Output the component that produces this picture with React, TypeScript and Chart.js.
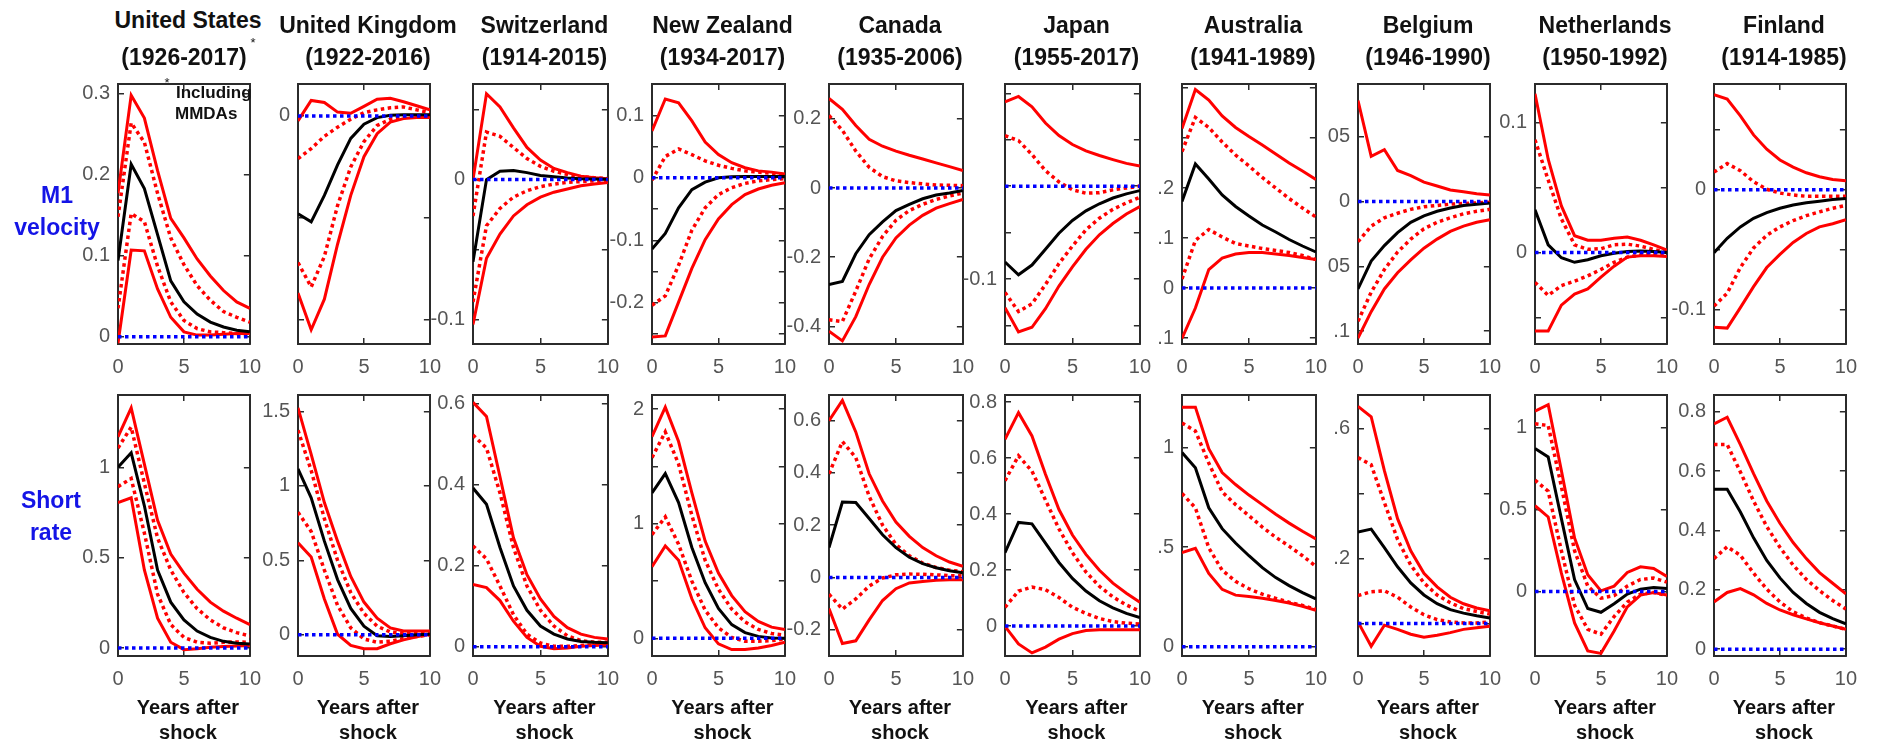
import React, { useEffect, useRef } from 'react';
import { Chart, registerables } from 'chart.js';

Chart.register(...registerables);

// ---------- data ----------
const years = [0, 1, 2, 3, 4, 5, 6, 7, 8, 9, 10];
const zeroLine = [0, 0, 0, 0, 0, 0, 0, 0, 0, 0, 0];
const xTicks = [0, 5, 10];
const xTickText = ['0', '5', '10'];

const countries = ['United States', 'United Kingdom', 'Switzerland', 'New Zealand', 'Canada', 'Japan', 'Australia', 'Belgium', 'Netherlands', 'Finland'];
const periods = ['(1926-2017)', '(1922-2016)', '(1914-2015)', '(1934-2017)', '(1935-2006)', '(1955-2017)', '(1941-1989)', '(1946-1990)', '(1950-1992)', '(1914-1985)'];
const rowLabels = [['M1', 'velocity'], ['Short', 'rate']];
const xTitle = ['Years after', 'shock'];
const usNote = ['Including', 'MMDAs'];

// series rows: upper outer band, upper inner band, point estimate, lower inner band, lower outer band
const usVel = [
  [0.177, 0.298, 0.27, 0.205, 0.146, 0.122, 0.096, 0.075, 0.057, 0.043, 0.035],
  [0.148, 0.264, 0.24, 0.177, 0.122, 0.089, 0.063, 0.045, 0.031, 0.024, 0.018],
  [0.094, 0.213, 0.183, 0.126, 0.069, 0.043, 0.028, 0.018, 0.012, 0.008, 0.006],
  [0.035, 0.152, 0.142, 0.087, 0.043, 0.02, 0.01, 0.006, 0.005, 0.004, 0.004],
  [-0.008, 0.107, 0.106, 0.059, 0.024, 0.006, 0.002, 0.002, 0.003, 0.004, 0.004],
];
const usVelRange = [-0.009, 0.312];
const usVelTicks = [0, 0.1, 0.2, 0.3];
const usVelText = ['0', '0.1', '0.2', '0.3'];

const ukVel = [
  [-0.0024, 0.0076, 0.0066, 0.0019, 0.0013, 0.0047, 0.0082, 0.0087, 0.007, 0.005, 0.003],
  [-0.021, -0.016, -0.01, -0.0055, -0.0016, 0.0016, 0.003, 0.004, 0.0044, 0.003, 0.0016],
  [-0.048, -0.052, -0.039, -0.024, -0.011, -0.004, -0.0008, 0.0003, 0.0006, 0.0006, 0.0006],
  [-0.072, -0.084, -0.069, -0.044, -0.025, -0.0126, -0.0047, -0.0016, -0.0003, 0, 0],
  [-0.087, -0.105, -0.09, -0.063, -0.039, -0.02, -0.0087, -0.003, -0.0013, -0.0008, -0.0008],
];
const ukVelRange = [-0.112, 0.0157];
const ukVelTicks = [-0.1, -0.05, 0];
const ukVelText = ['', '', '0'];

const chVel = [
  [0, 0.0614, 0.052, 0.037, 0.023, 0.014, 0.008, 0.005, 0.0025, 0.0014, 0.0007],
  [-0.026, 0.034, 0.031, 0.023, 0.015, 0.0095, 0.006, 0.0037, 0.002, 0.0014, 0.0007],
  [-0.0587, 0, 0.006, 0.0065, 0.005, 0.003, 0.002, 0.0012, 0.0007, 0.0005, 0.0002],
  [-0.0875, -0.033, -0.0206, -0.0125, -0.008, -0.005, -0.0032, -0.002, -0.0014, -0.0009, -0.0007],
  [-0.1037, -0.0563, -0.039, -0.026, -0.018, -0.0125, -0.009, -0.0067, -0.0044, -0.0032, -0.002],
];
const chVelRange = [-0.1176, 0.0684];
const chVelTicks = [-0.1, -0.05, 0, 0.05];
const chVelText = ['-0.1', '', '0', ''];

const nzVel = [
  [0.075, 0.126, 0.12, 0.091, 0.057, 0.037, 0.024, 0.016, 0.011, 0.009, 0.006],
  [-0.004, 0.034, 0.046, 0.037, 0.027, 0.02, 0.015, 0.011, 0.009, 0.007, 0.005],
  [-0.114, -0.089, -0.048, -0.019, -0.007, 0, 0.0015, 0.002, 0.002, 0.002, 0.002],
  [-0.204, -0.189, -0.14, -0.084, -0.048, -0.027, -0.016, -0.009, -0.005, -0.003, -0.0015],
  [-0.255, -0.253, -0.199, -0.145, -0.099, -0.066, -0.043, -0.027, -0.018, -0.012, -0.008],
];
const nzVelRange = [-0.266, 0.15];
const nzVelTicks = [-0.25, -0.2, -0.15, -0.1, -0.05, 0, 0.05, 0.1];
const nzVelText = ['', '-0.2', '', '-0.1', '', '0', '', '0.1'];

const caVel = [
  [0.259, 0.228, 0.181, 0.141, 0.121, 0.107, 0.095, 0.084, 0.073, 0.062, 0.051],
  [0.21, 0.167, 0.107, 0.06, 0.033, 0.021, 0.016, 0.012, 0.009, 0.008, 0.007],
  [-0.279, -0.27, -0.19, -0.135, -0.098, -0.065, -0.047, -0.031, -0.02, -0.014, -0.007],
  [-0.381, -0.386, -0.298, -0.205, -0.14, -0.093, -0.065, -0.047, -0.033, -0.023, -0.014],
  [-0.414, -0.442, -0.372, -0.279, -0.2, -0.144, -0.107, -0.079, -0.058, -0.045, -0.033],
];
const caVelRange = [-0.451, 0.301];
const caVelTicks = [-0.4, -0.2, 0, 0.2];
const caVelText = ['-0.4', '-0.2', '0', '0.2'];

const jpVel = [
  [0.0907, 0.0966, 0.0855, 0.068, 0.0545, 0.0448, 0.038, 0.033, 0.0286, 0.0245, 0.0217],
  [0.0545, 0.049, 0.034, 0.0166, 0.0045, -0.004, -0.0076, -0.007, -0.004, -0.002, 0],
  [-0.0817, -0.0955, -0.085, -0.068, -0.0507, -0.037, -0.0266, -0.019, -0.0128, -0.0083, -0.0048],
  [-0.1145, -0.135, -0.1266, -0.106, -0.0834, -0.0645, -0.047, -0.0345, -0.025, -0.018, -0.012],
  [-0.131, -0.157, -0.152, -0.132, -0.1076, -0.087, -0.068, -0.0524, -0.0403, -0.03, -0.022],
];
const jpVelRange = [-0.17, 0.11];
const jpVelTicks = [-0.15, -0.1, -0.05, 0, 0.05, 0.1];
const jpVelText = ['', '-0.1', '', '', '', ''];

const auVel = [
  [0.319, 0.397, 0.376, 0.344, 0.321, 0.303, 0.286, 0.268, 0.25, 0.234, 0.217],
  [0.273, 0.341, 0.321, 0.292, 0.266, 0.244, 0.221, 0.2, 0.179, 0.16, 0.142],
  [0.173, 0.248, 0.218, 0.186, 0.163, 0.144, 0.126, 0.112, 0.097, 0.084, 0.072],
  [0.018, 0.095, 0.117, 0.102, 0.089, 0.084, 0.079, 0.075, 0.071, 0.065, 0.057],
  [-0.101, -0.04, 0.037, 0.06, 0.068, 0.071, 0.071, 0.068, 0.065, 0.061, 0.057],
];
const auVelRange = [-0.112, 0.408];
const auVelTicks = [-0.1, 0, 0.1, 0.2, 0.3, 0.4];
const auVelText = ['.1', '0', '.1', '.2', '', ''];

const beVel = [
  [0.078, 0.035, 0.04, 0.024, 0.02, 0.015, 0.012, 0.009, 0.0075, 0.006, 0.005],
  [-0.031, -0.019, -0.0125, -0.009, -0.006, -0.004, -0.003, -0.002, -0.0015, -0.001, -0.0005],
  [-0.0675, -0.046, -0.034, -0.024, -0.016, -0.011, -0.0075, -0.005, -0.003, -0.002, -0.0012],
  [-0.0925, -0.07, -0.0525, -0.039, -0.029, -0.021, -0.016, -0.0125, -0.0095, -0.0075, -0.006],
  [-0.1055, -0.085, -0.0675, -0.055, -0.045, -0.036, -0.029, -0.023, -0.019, -0.016, -0.014],
];
const beVelRange = [-0.11, 0.0908];
const beVelTicks = [-0.1, -0.05, 0, 0.05];
const beVelText = ['.1', '05', '0', '05'];

const nlVel = [
  [0.1225, 0.072, 0.036, 0.013, 0.0095, 0.0095, 0.011, 0.012, 0.0095, 0.006, 0.002],
  [0.087, 0.056, 0.026, 0.006, 0.0025, 0.003, 0.006, 0.0065, 0.005, 0.0025, 0],
  [0.033, 0.006, -0.004, -0.0075, -0.0055, -0.0025, -0.0005, 0.0008, 0.0013, 0.0008, 0],
  [-0.023, -0.033, -0.0255, -0.022, -0.018, -0.013, -0.0075, -0.0035, -0.0018, -0.001, -0.001],
  [-0.0605, -0.0605, -0.0405, -0.032, -0.028, -0.019, -0.0105, -0.0035, -0.0025, -0.0025, -0.003],
];
const nlVelRange = [-0.0705, 0.13];
const nlVelTicks = [-0.05, 0, 0.05, 0.1];
const nlVelText = ['', '0', '', '0.1'];

const fiVel = [
  [0.0797, 0.076, 0.062, 0.046, 0.034, 0.025, 0.019, 0.0143, 0.011, 0.0086, 0.0076],
  [0.0149, 0.022, 0.016, 0.0068, 0.0005, -0.0027, -0.0043, -0.0054, -0.0054, -0.0054, -0.0054],
  [-0.0527, -0.0405, -0.031, -0.0238, -0.019, -0.0154, -0.0127, -0.0108, -0.0095, -0.008, -0.0073],
  [-0.0973, -0.0865, -0.065, -0.0486, -0.038, -0.031, -0.0257, -0.0216, -0.0184, -0.0154, -0.013],
  [-0.115, -0.1157, -0.0986, -0.081, -0.065, -0.054, -0.044, -0.0365, -0.031, -0.0284, -0.025],
];
const fiVelRange = [-0.129, 0.0886];
const fiVelTicks = [-0.1, -0.05, 0, 0.05];
const fiVelText = ['-0.1', '', '0', ''];

const usRate = [
  [1.169, 1.329, 1.018, 0.707, 0.52, 0.414, 0.325, 0.254, 0.204, 0.165, 0.13],
  [1.107, 1.222, 0.911, 0.609, 0.432, 0.307, 0.218, 0.156, 0.112, 0.085, 0.067],
  [1.0, 1.08, 0.787, 0.432, 0.254, 0.156, 0.094, 0.059, 0.037, 0.027, 0.023],
  [0.893, 0.938, 0.636, 0.298, 0.13, 0.059, 0.032, 0.027, 0.032, 0.034, 0.032],
  [0.805, 0.831, 0.432, 0.165, 0.032, -0.009, -0.004, 0.005, 0.009, 0.012, 0.014],
];
const usRateRange = [-0.044, 1.4];
const usRateTicks = [0, 0.5, 1];
const usRateText = ['0', '0.5', '1'];

const ukRate = [
  [1.524, 1.211, 0.888, 0.629, 0.392, 0.22, 0.112, 0.047, 0.026, 0.026, 0.026],
  [1.373, 1.103, 0.78, 0.5, 0.284, 0.144, 0.058, 0.019, 0.009, 0.009, 0.009],
  [1.114, 0.92, 0.629, 0.371, 0.177, 0.058, -0.006, -0.011, -0.006, 0, 0.004],
  [0.823, 0.694, 0.435, 0.198, 0.047, -0.028, -0.05, -0.043, -0.024, -0.011, 0],
  [0.618, 0.522, 0.241, 0.004, -0.071, -0.093, -0.093, -0.06, -0.034, -0.013, 0.004],
];
const ukRateRange = [-0.142, 1.61];
const ukRateTicks = [0, 0.5, 1, 1.5];
const ukRateText = ['0', '0.5', '1', '1.5'];

const chRate = [
  [0.604, 0.569, 0.42, 0.269, 0.178, 0.118, 0.075, 0.047, 0.031, 0.023, 0.019],
  [0.523, 0.491, 0.38, 0.245, 0.15, 0.09, 0.051, 0.027, 0.015, 0.011, 0.011],
  [0.392, 0.352, 0.245, 0.15, 0.09, 0.051, 0.031, 0.019, 0.013, 0.011, 0.01],
  [0.249, 0.217, 0.15, 0.079, 0.031, 0.009, 0.001, 0.001, 0.003, 0.005, 0.007],
  [0.154, 0.146, 0.114, 0.063, 0.023, 0.001, -0.005, -0.003, 0.001, 0.003, 0.005],
];
const chRateRange = [-0.023, 0.622];
const chRateTicks = [0, 0.2, 0.4, 0.6];
const chRateText = ['0', '0.2', '0.4', '0.6'];

const nzRate = [
  [1.759, 2.017, 1.717, 1.269, 0.849, 0.569, 0.373, 0.232, 0.148, 0.098, 0.078],
  [1.577, 1.801, 1.521, 1.073, 0.681, 0.429, 0.255, 0.143, 0.078, 0.042, 0.028],
  [1.269, 1.437, 1.185, 0.793, 0.485, 0.261, 0.12, 0.05, 0.017, 0.003, 0],
  [0.905, 1.059, 0.821, 0.499, 0.246, 0.092, 0.008, -0.025, -0.025, -0.02, -0.006],
  [0.625, 0.807, 0.681, 0.345, 0.092, -0.048, -0.098, -0.098, -0.084, -0.062, -0.034],
];
const nzRateRange = [-0.154, 2.123];
const nzRateTicks = [0, 0.5, 1, 1.5, 2];
const nzRateText = ['0', '', '1', '', '2'];

const caRate = [
  [0.599, 0.676, 0.556, 0.396, 0.292, 0.212, 0.157, 0.114, 0.083, 0.059, 0.043],
  [0.396, 0.519, 0.458, 0.31, 0.2, 0.126, 0.083, 0.055, 0.038, 0.028, 0.022],
  [0.114, 0.288, 0.286, 0.225, 0.163, 0.114, 0.077, 0.053, 0.037, 0.026, 0.018],
  [-0.064, -0.121, -0.082, -0.033, -0.002, 0.01, 0.013, 0.012, 0.01, 0.007, 0.006],
  [-0.119, -0.252, -0.242, -0.162, -0.088, -0.043, -0.021, -0.015, -0.011, -0.009, -0.009],
];
const caRateRange = [-0.3, 0.697];
const caRateTicks = [-0.2, 0, 0.2, 0.4, 0.6];
const caRateText = ['-0.2', '0', '0.2', '0.4', '0.6'];

const jpRate = [
  [0.667, 0.762, 0.679, 0.542, 0.416, 0.325, 0.256, 0.199, 0.153, 0.117, 0.085],
  [0.519, 0.608, 0.553, 0.45, 0.347, 0.262, 0.193, 0.142, 0.104, 0.075, 0.053],
  [0.262, 0.37, 0.365, 0.296, 0.227, 0.17, 0.125, 0.09, 0.065, 0.045, 0.03],
  [0.067, 0.125, 0.139, 0.13, 0.102, 0.067, 0.045, 0.027, 0.016, 0.01, 0.007],
  [-0.001, -0.064, -0.096, -0.075, -0.047, -0.027, -0.016, -0.013, -0.013, -0.013, -0.013],
];
const jpRateRange = [-0.107, 0.825];
const jpRateTicks = [0, 0.2, 0.4, 0.6, 0.8];
const jpRateText = ['0', '0.2', '0.4', '0.6', '0.8'];

const auRate = [
  [1.204, 1.204, 0.995, 0.875, 0.815, 0.762, 0.714, 0.666, 0.621, 0.58, 0.542],
  [1.124, 1.084, 0.923, 0.778, 0.714, 0.658, 0.601, 0.55, 0.505, 0.457, 0.404],
  [0.976, 0.899, 0.698, 0.593, 0.521, 0.457, 0.397, 0.347, 0.307, 0.272, 0.24],
  [0.77, 0.698, 0.497, 0.384, 0.328, 0.291, 0.264, 0.243, 0.223, 0.207, 0.188],
  [0.473, 0.494, 0.368, 0.288, 0.259, 0.252, 0.243, 0.232, 0.219, 0.203, 0.183],
];
const auRateRange = [-0.047, 1.265];
const auRateTicks = [0, 0.5, 1];
const auRateText = ['0', '.5', '1'];

const beRate = [
  [0.669, 0.637, 0.471, 0.323, 0.224, 0.155, 0.113, 0.081, 0.061, 0.048, 0.039],
  [0.511, 0.489, 0.373, 0.259, 0.18, 0.125, 0.088, 0.064, 0.046, 0.037, 0.029],
  [0.282, 0.291, 0.234, 0.175, 0.125, 0.088, 0.061, 0.043, 0.032, 0.024, 0.017],
  [0.086, 0.098, 0.101, 0.081, 0.051, 0.027, 0.012, 0.005, 0.002, 0.002, 0.005],
  [0.005, -0.07, -0.005, -0.018, -0.033, -0.042, -0.036, -0.028, -0.018, -0.013, -0.008],
];
const beRateRange = [-0.1, 0.704];
const beRateTicks = [0, 0.2, 0.4, 0.6];
const beRateText = ['', '.2', '', '.6'];

const nlRate = [
  [1.102, 1.141, 0.739, 0.327, 0.102, 0.004, 0.033, 0.116, 0.151, 0.141, 0.092],
  [1.024, 1.014, 0.641, 0.249, 0.033, -0.041, -0.025, 0.033, 0.073, 0.082, 0.057],
  [0.873, 0.822, 0.445, 0.073, -0.104, -0.127, -0.075, -0.016, 0.014, 0.024, 0.018],
  [0.68, 0.612, 0.249, -0.084, -0.231, -0.261, -0.153, -0.065, -0.016, -0.006, -0.025],
  [0.524, 0.455, 0.112, -0.192, -0.363, -0.378, -0.241, -0.094, -0.022, -0.006, -0.022],
];
const nlRateRange = [-0.394, 1.2];
const nlRateTicks = [0, 0.5, 1];
const nlRateText = ['0', '0.5', '1'];

const fiRate = [
  [0.759, 0.781, 0.689, 0.591, 0.499, 0.424, 0.359, 0.305, 0.258, 0.222, 0.186],
  [0.689, 0.689, 0.597, 0.499, 0.413, 0.343, 0.283, 0.235, 0.197, 0.164, 0.135],
  [0.539, 0.539, 0.462, 0.375, 0.299, 0.24, 0.191, 0.154, 0.124, 0.103, 0.085],
  [0.305, 0.345, 0.316, 0.256, 0.202, 0.159, 0.126, 0.105, 0.089, 0.078, 0.067],
  [0.159, 0.191, 0.204, 0.183, 0.154, 0.132, 0.116, 0.102, 0.089, 0.078, 0.067],
];
const fiRateRange = [-0.023, 0.856];
const fiRateTicks = [0, 0.2, 0.4, 0.6, 0.8];
const fiRateText = ['0', '0.2', '0.4', '0.6', '0.8'];

const panelRows = [
  [
    { s: usVel, r: usVelRange, t: usVelTicks, l: usVelText },
    { s: ukVel, r: ukVelRange, t: ukVelTicks, l: ukVelText },
    { s: chVel, r: chVelRange, t: chVelTicks, l: chVelText },
    { s: nzVel, r: nzVelRange, t: nzVelTicks, l: nzVelText },
    { s: caVel, r: caVelRange, t: caVelTicks, l: caVelText },
    { s: jpVel, r: jpVelRange, t: jpVelTicks, l: jpVelText },
    { s: auVel, r: auVelRange, t: auVelTicks, l: auVelText },
    { s: beVel, r: beVelRange, t: beVelTicks, l: beVelText },
    { s: nlVel, r: nlVelRange, t: nlVelTicks, l: nlVelText },
    { s: fiVel, r: fiVelRange, t: fiVelTicks, l: fiVelText },
  ],
  [
    { s: usRate, r: usRateRange, t: usRateTicks, l: usRateText },
    { s: ukRate, r: ukRateRange, t: ukRateTicks, l: ukRateText },
    { s: chRate, r: chRateRange, t: chRateTicks, l: chRateText },
    { s: nzRate, r: nzRateRange, t: nzRateTicks, l: nzRateText },
    { s: caRate, r: caRateRange, t: caRateTicks, l: caRateText },
    { s: jpRate, r: jpRateRange, t: jpRateTicks, l: jpRateText },
    { s: auRate, r: auRateRange, t: auRateTicks, l: auRateText },
    { s: beRate, r: beRateRange, t: beRateTicks, l: beRateText },
    { s: nlRate, r: nlRateRange, t: nlRateTicks, l: nlRateText },
    { s: fiRate, r: fiRateRange, t: fiRateTicks, l: fiRateText },
  ],
];

// ---------- layout & style ----------
const boxLeft = [118, 298, 473, 652, 829, 1005, 1182, 1358, 1535, 1714];
const boxRight = [258, 438, 616, 793, 971, 1148, 1324, 1498, 1675, 1854];
const rowTop = [74, 385];
const rowBottom = [344, 656];
const LM = 70;
const RM = 20;
const TM = 16;
const BM = 50;
const FONT = '"Liberation Sans", Arial, Helvetica, sans-serif';
const BOX_COLOR = '#2b2b2b';
const TICK_COLOR = '#555555';

function setTicks(vals: number[]) {
  return (scale: any) => {
    scale.ticks = vals.map((v) => ({ value: v }));
  };
}

function Panel({ spec, col, row }: any) {
  const ref = useRef<HTMLCanvasElement>(null);
  const x0 = boxLeft[col];
  const x1 = boxRight[col];
  const y0 = rowTop[row];
  const y1 = rowBottom[row];
  const w = LM + (x1 - x0) + RM;
  const h = TM + (y1 - y0) + BM;

  useEffect(() => {
    const [hi, hi68, mid, lo68, lo] = spec.s;
    const pts = (arr: number[]) => years.map((x, i) => ({ x, y: arr[i] }));
    const solid = (arr: number[], color: string) => ({
      data: pts(arr),
      borderColor: color,
      borderWidth: 3,
      pointRadius: 0,
      fill: false,
      tension: 0,
      xAxisID: 'x',
      yAxisID: 'y',
    });
    const dotted = (arr: number[], color: string) => ({
      ...solid(arr, color),
      borderWidth: 3.5,
      borderDash: [3.5, 3.5],
    });
    const grid = {
      display: true,
      drawOnChartArea: false,
      drawTicks: true,
      tickLength: -6,
      color: BOX_COLOR,
      lineWidth: 1.5,
    };
    const border = { display: true, color: BOX_COLOR, width: 2 };
    const tickFont = { family: FONT, size: 20 };
    const [ymin, ymax] = spec.r;

    const chart = new Chart(ref.current as HTMLCanvasElement, {
      type: 'line',
      data: {
        datasets: [
          dotted(zeroLine, '#0000ff'),
          solid(mid, '#000000'),
          dotted(hi68, '#ff0000'),
          dotted(lo68, '#ff0000'),
          solid(hi, '#ff0000'),
          solid(lo, '#ff0000'),
        ] as any,
      },
      options: {
        responsive: false,
        animation: false,
        devicePixelRatio: 1,
        events: [],
        layout: { padding: { left: 0, right: RM, top: TM, bottom: 0 } },
        plugins: { legend: { display: false }, tooltip: { enabled: false } },
        scales: {
          x: {
            type: 'linear',
            position: 'bottom',
            min: 0,
            max: 10,
            afterBuildTicks: setTicks(xTicks),
            afterFit: (s: any) => { s.height = BM; },
            ticks: {
              autoSkip: false,
              maxRotation: 0,
              color: TICK_COLOR,
              font: tickFont,
              padding: 17,
              callback: (_v: any, i: number) => xTickText[i],
            },
            grid,
            border,
          },
          xTop: {
            type: 'linear',
            position: 'top',
            min: 0,
            max: 10,
            afterBuildTicks: setTicks(xTicks),
            afterFit: (s: any) => { s.height = 0; },
            ticks: { display: false },
            grid,
            border,
          },
          y: {
            type: 'linear',
            position: 'left',
            min: ymin,
            max: ymax,
            afterBuildTicks: setTicks(spec.t),
            afterFit: (s: any) => { s.width = LM; },
            ticks: {
              autoSkip: false,
              color: TICK_COLOR,
              font: tickFont,
              padding: 14,
              callback: (_v: any, i: number) => spec.l[i],
            },
            grid,
            border,
          },
          yRight: {
            type: 'linear',
            position: 'right',
            min: ymin,
            max: ymax,
            afterBuildTicks: setTicks(spec.t),
            afterFit: (s: any) => { s.width = 0; },
            ticks: { display: false },
            grid,
            border,
          },
        } as any,
      } as any,
    });
    return () => chart.destroy();
  }, []);

  return (
    <canvas
      ref={ref}
      width={w}
      height={h}
      style={{ position: 'absolute', left: x0 - LM, top: y0 - TM, width: w, height: h, zIndex: 2 + row * 10 + col }}
    />
  );
}

function Txt({ x, y, size, color = '#111', bold = true, align = 'center', children }: any) {
  return (
    <div
      style={{
        position: 'absolute',
        left: x,
        top: y,
        transform: align === 'center' ? 'translate(-50%, -50%)' : 'translate(0, -50%)',
        font: `${bold ? 'bold ' : ''}${size}px ${FONT}`,
        color,
        whiteSpace: 'nowrap',
        lineHeight: 1,
        zIndex: 100,
        pointerEvents: 'none',
      }}
    >
      {children}
    </div>
  );
}

export default function App() {
  const centers = boxLeft.map((l, i) => (l + boxRight[i]) / 2);
  return (
    <div style={{ position: 'absolute', left: 0, top: 0, width: 1884, height: 744, background: '#ffffff', overflow: 'hidden' }}>
      {panelRows.map((rowSpecs, r) =>
        rowSpecs.map((spec, c) => <Panel key={`${r}-${c}`} spec={spec} col={c} row={r} />)
      )}
      {countries.map((name, i) => (
        <Txt key={`t${i}`} x={centers[i]} y={i === 0 ? 20 : 25} size={23}>{name}</Txt>
      ))}
      {periods.map((p, i) => (
        <Txt key={`p${i}`} x={i === 0 ? centers[i] - 4 : centers[i]} y={57} size={23}>{p}</Txt>
      ))}
      <Txt x={253} y={42} size={13} bold={false}>*</Txt>
      <Txt x={167} y={82} size={13} bold={false}>*</Txt>
      <Txt x={176} y={92} size={17} align="left">{usNote[0]}</Txt>
      <Txt x={175} y={113} size={17} align="left">{usNote[1]}</Txt>
      <Txt x={57} y={195} size={23} color="#1414e6">{rowLabels[0][0]}</Txt>
      <Txt x={57} y={227} size={23} color="#1414e6">{rowLabels[0][1]}</Txt>
      <Txt x={51} y={500} size={23} color="#1414e6">{rowLabels[1][0]}</Txt>
      <Txt x={51} y={532} size={23} color="#1414e6">{rowLabels[1][1]}</Txt>
      {centers.map((cx, i) => (
        <React.Fragment key={`x${i}`}>
          <Txt x={cx} y={707} size={20}>{xTitle[0]}</Txt>
          <Txt x={cx} y={732} size={20}>{xTitle[1]}</Txt>
        </React.Fragment>
      ))}
    </div>
  );
}
